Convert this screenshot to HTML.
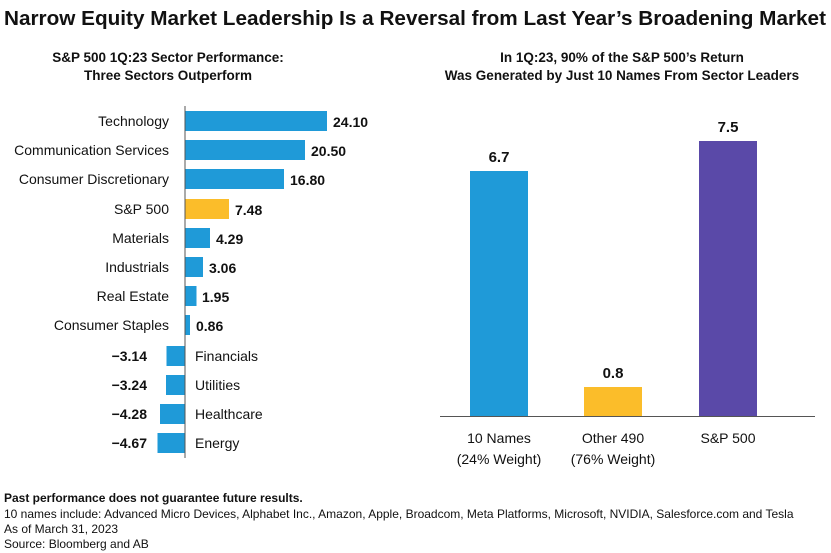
<!DOCTYPE html>
<html><head><meta charset="utf-8"><style>body{margin:0;background:#fff}svg{display:block}text{font-family:"Liberation Sans",sans-serif;fill:#111}</style></head><body>
<svg width="831" height="553" viewBox="0 0 831 553" xmlns="http://www.w3.org/2000/svg">
<text x="4" y="25" font-size="20" font-weight="bold" textLength="822" lengthAdjust="spacingAndGlyphs">Narrow Equity Market Leadership Is a Reversal from Last Year’s Broadening Market</text>
<g font-size="13.5" font-weight="bold" text-anchor="middle">
<text x="168" y="62">S&amp;P 500 1Q:23 Sector Performance:</text>
<text x="168" y="80">Three Sectors Outperform</text>
<text x="622" y="62">In 1Q:23, 90% of the S&amp;P 500’s Return</text>
<text x="622" y="80">Was Generated by Just 10 Names From Sector Leaders</text>
</g>
<!-- left chart -->
<g fill="#1f9ad8">
<rect x="185" y="111" width="142" height="20"/>
<rect x="185" y="140" width="120" height="20"/>
<rect x="185" y="169" width="99" height="20"/>
<rect x="185" y="199" width="44" height="20" fill="#fbbd2a"/>
<rect x="185" y="228" width="25" height="20"/>
<rect x="185" y="257" width="18" height="20"/>
<rect x="185" y="286" width="11.5" height="20"/>
<rect x="185" y="315" width="5" height="20"/>
<rect x="166.5" y="346" width="18.5" height="20"/>
<rect x="166" y="375" width="19" height="20"/>
<rect x="160" y="404" width="25" height="20"/>
<rect x="157.5" y="433" width="27.5" height="20"/>
</g>
<line x1="185" y1="106" x2="185" y2="458" stroke="#555" stroke-width="1"/>
<g font-size="14" text-anchor="end">
<text x="169" y="126">Technology</text>
<text x="169" y="155">Communication Services</text>
<text x="169" y="184">Consumer Discretionary</text>
<text x="169" y="214">S&amp;P 500</text>
<text x="169" y="243">Materials</text>
<text x="169" y="272">Industrials</text>
<text x="169" y="301">Real Estate</text>
<text x="169" y="330">Consumer Staples</text>
</g>
<g font-size="14">
<text x="195" y="361">Financials</text>
<text x="195" y="390">Utilities</text>
<text x="195" y="419">Healthcare</text>
<text x="195" y="448">Energy</text>
</g>
<g font-size="14" font-weight="bold">
<text x="333" y="127">24.10</text>
<text x="311" y="156">20.50</text>
<text x="290" y="185">16.80</text>
<text x="235" y="215">7.48</text>
<text x="216" y="244">4.29</text>
<text x="209" y="273">3.06</text>
<text x="202" y="302">1.95</text>
<text x="196" y="331">0.86</text>
</g>
<g font-size="14" font-weight="bold" text-anchor="end">
<text x="147" y="361">−3.14</text>
<text x="147" y="390">−3.24</text>
<text x="147" y="419">−4.28</text>
<text x="147" y="448">−4.67</text>
</g>
<!-- right chart -->
<rect x="470" y="171" width="58" height="245" fill="#1f9ad8"/>
<rect x="584" y="387" width="58" height="29" fill="#fbbd2a"/>
<rect x="699" y="141" width="58" height="275" fill="#5a49a8"/>
<line x1="440" y1="416.5" x2="815" y2="416.5" stroke="#555"/>
<g font-size="15" font-weight="bold" text-anchor="middle">
<text x="499" y="162">6.7</text>
<text x="613" y="378">0.8</text>
<text x="728" y="132">7.5</text>
</g>
<g font-size="14" text-anchor="middle">
<text x="499" y="443">10 Names</text>
<text x="499" y="464">(24% Weight)</text>
<text x="613" y="443">Other 490</text>
<text x="613" y="464">(76% Weight)</text>
<text x="728" y="443">S&amp;P 500</text>
</g>
<g font-size="12">
<text x="4" y="502" font-weight="bold">Past performance does not guarantee future results.</text>
<text x="4" y="518">10 names include: Advanced Micro Devices, Alphabet Inc., Amazon, Apple, Broadcom, Meta Platforms, Microsoft, NVIDIA, Salesforce.com and Tesla</text>
<text x="4" y="533">As of March 31, 2023</text>
<text x="4" y="548">Source: Bloomberg and AB</text>
</g>
</svg>
</body></html>
